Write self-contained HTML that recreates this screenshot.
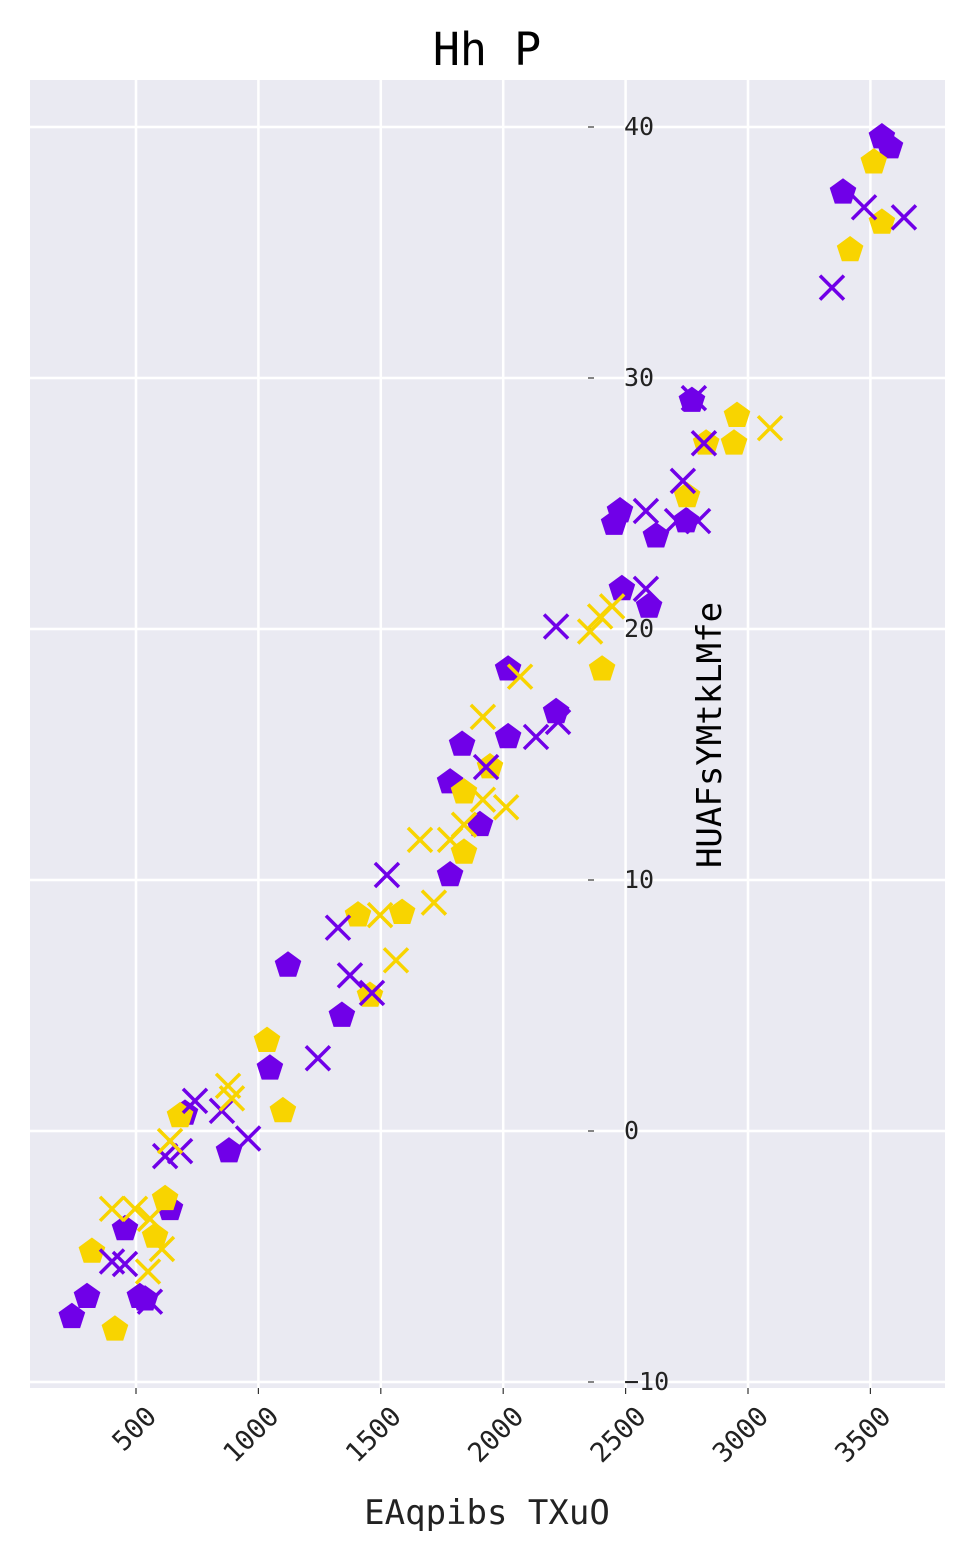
<!DOCTYPE html>
<html><head><meta charset="utf-8"><style>
body{margin:0;background:#fff}
svg{display:block;font-family:"DejaVu Sans Mono","Liberation Mono",monospace}
</style></head><body>
<svg id="chart" width="975" height="1560" viewBox="0 0 975 1560" xmlns="http://www.w3.org/2000/svg">
<rect x="30" y="80" width="915" height="1308" fill="#eaeaf2"/>
<g id="grid"></g><g id="ticks"></g><g id="marks"></g>
<text x="487" y="65" font-size="45" text-anchor="middle" fill="#000">Hh P</text>
<text x="487" y="1524" font-size="34" text-anchor="middle" fill="#222">EAqpibs TXuO</text>
<text transform="translate(721,735) rotate(-90)" font-size="34" text-anchor="middle" fill="#000">HUAFsYMtkLMfe</text>
</svg>
<script>
const xTicks=[500,1000,1500,2000,2500,3000,3500];
const yTicks=[-10,0,10,20,30,40];
const purplePentX=[238,300,455,516,537,639,700,880,1047,1121,1341,1783,1783,1832,1905,2020,2020,2216,2453,2477,2485,2596,2624,2747,2771,3388,3547,3580];
const purplePentY=[-7.4,-6.6,-3.9,-6.6,-6.7,-3.1,0.7,-0.8,2.5,6.6,4.6,10.2,13.9,15.4,12.2,18.4,15.7,16.7,24.2,24.7,21.6,20.9,23.7,24.3,29.1,37.4,39.6,39.2];
const yellowPentX=[320,414,578,619,680,1035,1100,1407,1456,1587,1840,1840,1946,2404,2751,2829,2943,2955,3417,3514,3547];
const yellowPentY=[-4.8,-7.9,-4.2,-2.7,0.6,3.6,0.8,8.6,5.4,8.7,13.5,11.1,14.5,18.4,25.3,27.4,27.4,28.5,35.1,38.6,36.2];
const purpleXX=[402,455,557,619,680,741,851,958,1243,1325,1374,1464,1525,1930,2134,2216,2224,2583,2583,2734,2710,2796,2779,2820,3343,3474,3637];
const purpleXY=[-5.2,-5.3,-6.8,-1.0,-0.8,1.2,0.8,-0.3,2.9,8.1,6.2,5.5,10.2,14.5,15.7,20.1,16.3,21.6,24.7,25.9,24.3,24.3,29.2,27.4,33.6,36.8,36.4];
const yellowXX=[402,496,549,557,606,639,876,892,1497,1562,1660,1717,1783,1840,1917,1917,2012,2069,2355,2396,2445,3090];
const yellowXY=[-3.1,-3.1,-5.6,-3.5,-4.7,-0.4,1.8,1.3,8.6,6.8,11.6,9.1,11.6,12.2,16.5,13.2,12.9,18.1,19.9,20.5,20.9,28.0];

const NS="http://www.w3.org/2000/svg";
const sx=v=>13.6+v*0.2448;
const sy=v=>1131-v*25.1;
function mk(tag,attrs,parent){const e=document.createElementNS(NS,tag);for(const k in attrs)e.setAttribute(k,attrs[k]);document.getElementById(parent).appendChild(e);return e;}
xTicks.forEach(t=>{
  const g=mk('line',{x1:sx(t),x2:sx(t),y1:80,y2:1388,stroke:'#fff','stroke-width':2.5},'grid');
  
  
  const tk=mk('line',{x1:sx(t),x2:sx(t),y1:1388,y2:1394,stroke:'#333','stroke-width':1.2},'ticks');
  
  
  const x=sx(t)+22,y=1418;
  const tl=mk('text',{x:x,y:y,'font-size':27,fill:'#222','text-anchor':'end',transform:`rotate(-45 ${x} ${y})`},'ticks');
  tl.textContent=t;
  
  
});
yTicks.forEach(t=>{
  const g=mk('line',{x1:30,x2:945,y1:sy(t),y2:sy(t),stroke:'#fff','stroke-width':2.5},'grid');
  
  
  const tk=mk('line',{x1:588,x2:594,y1:sy(t),y2:sy(t),stroke:'#333','stroke-width':1.2},'ticks');
  
  
  const tl=mk('text',{x:624,y:sy(t)+8,'font-size':25,fill:'#222'},'ticks');
  tl.textContent=t<0?'\u2212'+Math.abs(t):t;
  
  
});
function pent(cx,cy,r){let p=[];for(let i=0;i<5;i++){const a=-Math.PI/2+i*2*Math.PI/5;p.push((cx+r*Math.cos(a)).toFixed(1)+','+(cy+r*Math.sin(a)).toFixed(1));}return p.join(' ');}
function drawPent(xs,ys,color,name){xs.forEach((v,i)=>{
  const e=mk('polygon',{points:pent(sx(v),sy(ys[i]),14),fill:color},'marks');
  
  
});}
function drawX(xs,ys,color,name){xs.forEach((v,i)=>{
  const cx=sx(v),cy=sy(ys[i]),h=12;
  const e=mk('path',{d:`M${cx-h},${cy-h}L${cx+h},${cy+h}M${cx-h},${cy+h}L${cx+h},${cy-h}`,stroke:color,'stroke-width':3.5,fill:'none'},'marks');
  
  
});}
const P='#7000e8',Y='#f8d400';
drawPent(purplePentX,purplePentY,P,'purple-pentagon-point');
drawPent(yellowPentX,yellowPentY,Y,'yellow-pentagon-point');
drawX(purpleXX,purpleXY,P,'purple-x-point');
drawX(yellowXX,yellowXY,Y,'yellow-x-point');
</script>
</body></html>
